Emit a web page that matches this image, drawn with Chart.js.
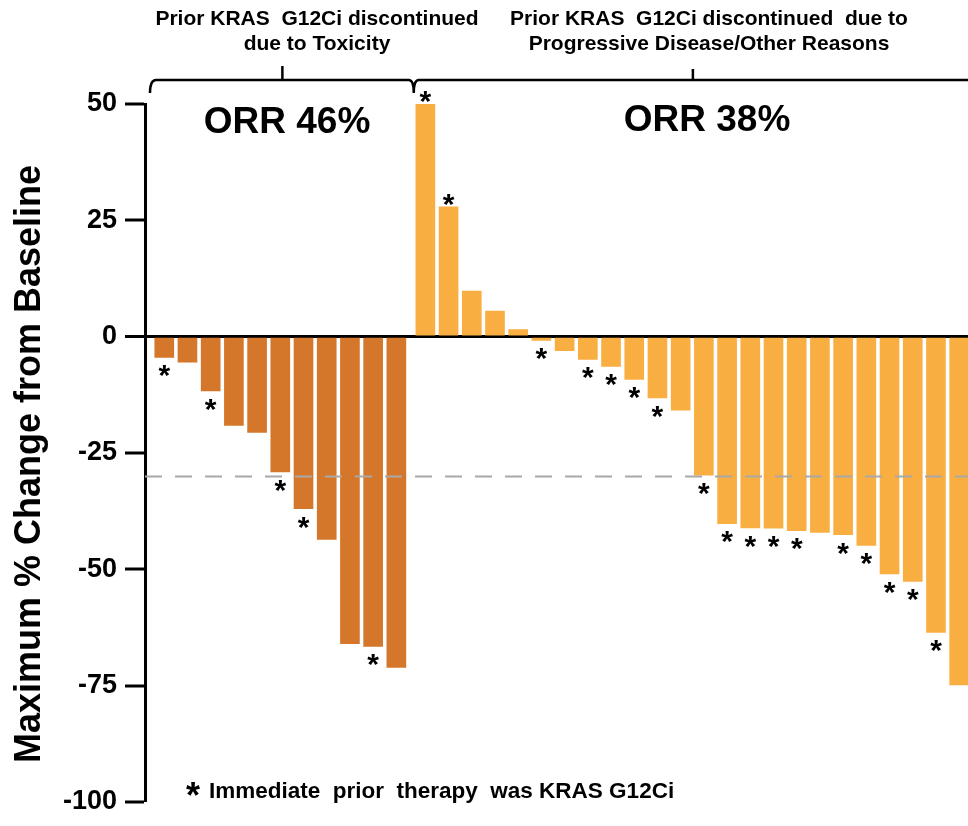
<!DOCTYPE html>
<html>
<head>
<meta charset="utf-8">
<script src="https://cdn.jsdelivr.net/npm/chart.js@4/dist/chart.umd.min.js"></script>
<style>
  html, body { margin: 0; padding: 0; background: #fff; }
  #wrap { width: 968px; height: 826px; position: relative; }
</style>
</head>
<body>
<div id="wrap"><canvas id="c" width="968" height="826"></canvas></div>
<script>
// Best % change from baseline per patient, sorted within each cohort
const toxicityChange = [-4.5, -5.5, -11.7, -19.1, -20.6, -29.1, -37.0, -43.6, -66.0, -66.6, -71.1];
const toxicityPriorG12Ci = [true, false, true, false, false, true, true, false, false, true, false];

const progressionChange = [50, 27.9, 9.8, 5.5, 1.5, -0.8, -3.0, -4.9, -6.4, -9.2, -13.2, -15.8,
  -29.8, -40.2, -41.1, -41.2, -41.7, -42.1, -42.6, -44.9, -51.0, -52.6, -63.6, -74.9];
const progressionPriorG12Ci = [true, true, false, false, false, true, false, true, true, true, true, false,
  true, true, true, true, true, false, true, true, true, true, true, false];

const yTicks = [50, 25, 0, -25, -50, -75, -100];
const responseThreshold = -30;

const cohortTitles = [
  ["Prior KRAS  G12Ci discontinued", "due to Toxicity"],
  ["Prior KRAS  G12Ci discontinued  due to", "Progressive Disease/Other Reasons"]
];
const orrLabels = ["ORR 46%", "ORR 38%"];
const yTitle = "Maximum % Change from Baseline";
const footnote = "Immediate  prior  therapy  was KRAS G12Ci";

// ---- layout / style ----
const FONT = "'Liberation Sans', Arial, Helvetica, sans-serif";
const GROUP_GAP = 0.25;            // extra spacing between the two cohorts (in bar slots)
const COLOR_TOX = '#D4772A';
const COLOR_PROG = '#F9AE42';

// x position of each bar in slot units
const toxX = toxicityChange.map((_, i) => i);
const progX = progressionChange.map((_, i) => toxicityChange.length + GROUP_GAP + i);

function drawStar(ctx, x, cy, size) {
  ctx.font = 'bold ' + size + 'px ' + FONT;
  ctx.textAlign = 'center';
  ctx.textBaseline = 'alphabetic';
  ctx.fillText('*', x, cy + size * 0.56);
}

const annotations = {
  id: 'annotations',
  afterDatasetsDraw(chart) {
    const ctx = chart.ctx;
    const area = chart.chartArea;
    const y = chart.scales.y;
    // 30% reduction reference line
    const yy = Math.round(y.getPixelForValue(responseThreshold)) + 0.5;
    ctx.save();
    ctx.strokeStyle = '#a8a8a8';
    ctx.lineWidth = 2;
    ctx.setLineDash([17, 13]);
    ctx.beginPath();
    ctx.moveTo(area.left, yy);
    ctx.lineTo(area.right, yy);
    ctx.stroke();
    ctx.restore();
  },
  afterDraw(chart) {
    const ctx = chart.ctx;
    const area = chart.chartArea;
    const xs = chart.scales.x;
    ctx.save();
    ctx.fillStyle = '#000';

    // asterisks for patients whose immediate prior therapy was a KRAS G12C inhibitor
    const flags = [toxicityPriorG12Ci, progressionPriorG12Ci];
    const values = [toxicityChange, progressionChange];
    [0, 1].forEach(d => {
      const meta = chart.getDatasetMeta(d);
      meta.data.forEach((bar, i) => {
        if (!flags[d][i]) return;
        const cy = values[d][i] >= 0 ? bar.y - 10 : bar.y + 11;
        drawStar(ctx, bar.x, cy, 30);
      });
    });

    // cohort brackets
    const yB = 80;
    const L = area.left + 6;
    const J = xs.getPixelForValue(toxicityChange.length - 0.5 + GROUP_GAP);
    const R = area.right + 4;
    const midL = (L + J) / 2, midR = (J + R) / 2;
    ctx.strokeStyle = '#000';
    ctx.lineWidth = 2.5;
    ctx.lineJoin = 'round';
    ctx.beginPath();
    ctx.moveTo(L - 1, yB + 13);
    ctx.quadraticCurveTo(L - 1, yB, L + 5, yB);
    ctx.lineTo(J - 5, yB);
    ctx.quadraticCurveTo(J, yB, J, yB + 13);
    ctx.moveTo(J, yB + 13);
    ctx.quadraticCurveTo(J, yB, J + 5, yB);
    ctx.lineTo(R, yB);
    ctx.moveTo(midL, yB);
    ctx.lineTo(midL, yB - 14);
    ctx.moveTo(midR, yB);
    ctx.lineTo(midR, yB - 11);
    ctx.stroke();

    // cohort headings
    ctx.textAlign = 'center';
    ctx.textBaseline = 'alphabetic';
    ctx.font = 'bold 21px ' + FONT;
    const headX = [317, 709];
    cohortTitles.forEach((lines, k) => {
      ctx.fillText(lines[0], headX[k], 25);
      ctx.fillText(lines[1], headX[k], 50);
    });

    // response rates
    ctx.font = 'bold 37px ' + FONT;
    ctx.fillText(orrLabels[0], 287, 133);
    ctx.fillText(orrLabels[1], 707, 131);

    // y-axis title
    ctx.save();
    ctx.translate(30, 464);
    ctx.rotate(-Math.PI / 2);
    ctx.textAlign = 'center';
    ctx.textBaseline = 'middle';
    ctx.font = 'bold 36px ' + FONT;
    ctx.fillText(yTitle, 0, 0);
    ctx.restore();

    // footnote
    drawStar(ctx, 193, 788, 36);
    ctx.textAlign = 'left';
    ctx.font = 'bold 22.5px ' + FONT;
    ctx.fillText(footnote, 209, 798);
    ctx.restore();
  }
};

new Chart(document.getElementById('c'), {
  type: 'bar',
  data: {
    datasets: [
      {
        label: 'Discontinued due to toxicity',
        data: toxicityChange.map((v, i) => ({ x: toxX[i], y: v })),
        backgroundColor: COLOR_TOX
      },
      {
        label: 'Discontinued due to PD / other',
        data: progressionChange.map((v, i) => ({ x: progX[i], y: v })),
        backgroundColor: COLOR_PROG
      }
    ]
  },
  options: {
    responsive: false,
    devicePixelRatio: 1,
    animation: false,
    layout: { padding: { top: 104, bottom: 17, left: 0, right: 0 } },
    datasets: { bar: { grouped: false, barThickness: 19, borderWidth: 0 } },
    plugins: { legend: { display: false }, tooltip: { enabled: false } },
    scales: {
      x: {
        type: 'linear',
        display: false,
        offset: false,
        grid: { offset: false },
        min: -0.83,
        max: toxicityChange.length + GROUP_GAP + progressionChange.length - 0.62
      },
      y: {
        min: yTicks[yTicks.length - 1],
        max: yTicks[0],
        z: 1,
        afterFit(scale) { scale.width = 145; },
        afterBuildTicks(scale) { scale.ticks = yTicks.map(v => ({ value: v })); },
        border: { display: true, color: '#000', width: 3 },
        grid: {
          drawOnChartArea: true,
          drawTicks: true,
          tickLength: 20,
          tickColor: '#000',
          tickWidth: 3,
          color: c => (c.tick && c.tick.value === 0) ? '#000' : 'rgba(0,0,0,0)',
          lineWidth: c => (c.tick && c.tick.value === 0) ? 3 : 0
        },
        ticks: {
          padding: 8,
          color: '#000',
          font: { family: FONT, size: 27, weight: 'bold' },
          callback: v => String(v)
        },
        title: { display: false }
      }
    }
  },
  plugins: [annotations]
});
</script>
</body>
</html>
